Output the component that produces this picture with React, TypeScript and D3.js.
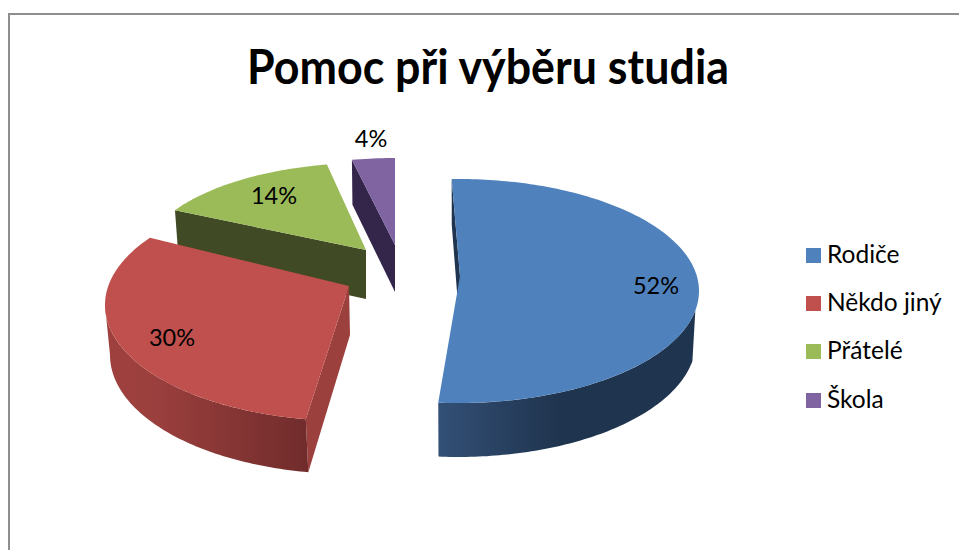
import React from "react";
import * as d3 from "d3";

const categories = ["Rodiče", "Někdo jiný", "Přátelé", "Škola"];
const shares = [52, 30, 14, 4];
const titleText = "Pomoc při výběru studia";

const topColors = ["#4f81bd", "#c0504d", "#9bbb59", "#8064a2"];
const faceColors = ["#1f344e", "#9c403e", "#404a24", "#33264a"];

// Perspective layout of each exploded slice (parametric angles in degrees).
const sliceLayout = [
  { cx: 458, cy: 291, rx: 241, ry: 112, apexY: 276, a0: -1.5, a1: 184.7, bcx: 458, bcy: 341, brx: 238, bry: 116, bApexY: 330, bApexX: 460, apexX: 460, wall: [100, 184.7] },
  { cx: 348, cy: 305, rx: 243, ry: 116, apexY: 286, a0: 190, a1: 305.4, bcx: 350, bcy: 355, brx: 240, bry: 119, bApexY: 335, bApexX: 350, apexX: 349, wall: [190, 270] },
  { cx: 366, cy: 263, rx: 225, ry: 100, apexY: 250, a0: 301.9, a1: 350, bcx: 367, bcy: 311, brx: 222, bry: 100, bApexY: 299, bApexX: 366, apexX: 366, wall: null },
  { cx: 395, cy: 270, rx: 241, ry: 112, apexY: 245, a0: 349.7, a1: 360, bcx: 395, bcy: 315, brx: 238, bry: 112, bApexY: 292, bApexX: 395, apexX: 395, wall: null },
];
const labelAnchors = [
  { x: 656, y: 294 },
  { x: 172, y: 346 },
  { x: 274, y: 204 },
  { x: 371, y: 147 },
];
const wallGradients = [
  { x1: 440, x2: 560, stops: [["0%", "#324f75"], ["100%", "#1f344e"]] },
  { x1: 110, x2: 309, stops: [["0%", "#9e403e"], ["20%", "#9c403e"], ["100%", "#702c2b"]] },
];
const legendY = [248, 296, 344, 393];

const FONT = "Lato, Carlito, Calibri, sans-serif";
const rad = (d: number) => (d * Math.PI) / 180;

function ellipsePt(cx: number, cy: number, rx: number, ry: number, deg: number): [number, number] {
  return [cx + rx * Math.sin(rad(deg)), cy - ry * Math.cos(rad(deg))];
}
const line = d3.line<[number, number]>();

export default function App() {
  const pie = d3.pie<number>().sort(null).startAngle(rad(-1.5)).endAngle(rad(358.5));
  const arcs = pie(shares);
  const total = d3.sum(shares);
  const pct = d3.format(".0%");

  const slices = arcs.map((arc, i) => {
    const L = sliceLayout[i];
    const warp = d3.scaleLinear().domain([arc.startAngle, arc.endAngle]).range([L.a0, L.a1]);
    const n = Math.max(8, Math.round(L.a1 - L.a0));
    const angles = d3.range(n + 1).map((k) => warp(arc.startAngle + ((arc.endAngle - arc.startAngle) * k) / n));
    const top: [number, number][] = [
      [L.apexX, L.apexY],
      ...angles.map((a) => ellipsePt(L.cx, L.cy, L.rx, L.ry, a)),
    ];
    const s0 = ellipsePt(L.cx, L.cy, L.rx, L.ry, L.a0);
    const s1 = ellipsePt(L.bcx, L.bcy, L.brx, L.bry, L.a0);
    const face: [number, number][] = [s0, [L.apexX, L.apexY], [L.bApexX, L.bApexY], s1];
    let wall: string | null = null;
    if (L.wall) {
      const ws = [...d3.range(L.wall[0], L.wall[1], 1), L.wall[1]];
      wall =
        line([
          ...ws.map((a) => ellipsePt(L.cx, L.cy, L.rx, L.ry, a)),
          ...ws.slice().reverse().map((a) => ellipsePt(L.bcx, L.bcy, L.brx, L.bry, a)),
        ]) + "Z";
    }
    return { top: line(top) + "Z", face: line(face) + "Z", wall, i };
  });

  return (
    <svg
      width={959}
      height={550}
      style={{ position: "absolute", left: 0, top: 0, background: "#fff", fontFamily: FONT }}
    >
      <defs>
        {wallGradients.map((g, i) => (
          <linearGradient key={i} id={`wall${i}`} gradientUnits="userSpaceOnUse" x1={g.x1} x2={g.x2} y1={0} y2={0}>
            {g.stops.map(([o, c]) => (
              <stop key={o} offset={o} stopColor={c} />
            ))}
          </linearGradient>
        ))}
      </defs>
      <path d="M9,550V14H959" fill="none" stroke="#8e8e8e" strokeWidth={2} />
      <text x={488} y={84} textAnchor="middle" fontSize={48} fontWeight={700} textLength={482} lengthAdjust="spacingAndGlyphs" fill="#000">
        {titleText}
      </text>
      {[3, 2, 1, 0].map((i) => {
        const s = slices[i];
        return (
          <g key={i}>
            <path d={s.face} fill={faceColors[i]} />
            {s.wall && <path d={s.wall} fill={`url(#wall${i})`} />}
            <path d={s.top} fill={topColors[i]} />
          </g>
        );
      })}
      {shares.map((v, i) => (
        <text key={i} x={labelAnchors[i].x} y={labelAnchors[i].y} textAnchor="middle" fontSize={23.5} fill="#000">
          {pct(v / total)}
        </text>
      ))}
      {categories.map((c, i) => (
        <g key={c}>
          <rect x={806} y={legendY[i]} width={15} height={15} fill={topColors[i]} />
          <text x={827} y={legendY[i] + 14.5} fontSize={24.5} fill="#000">
            {c}
          </text>
        </g>
      ))}
    </svg>
  );
}
